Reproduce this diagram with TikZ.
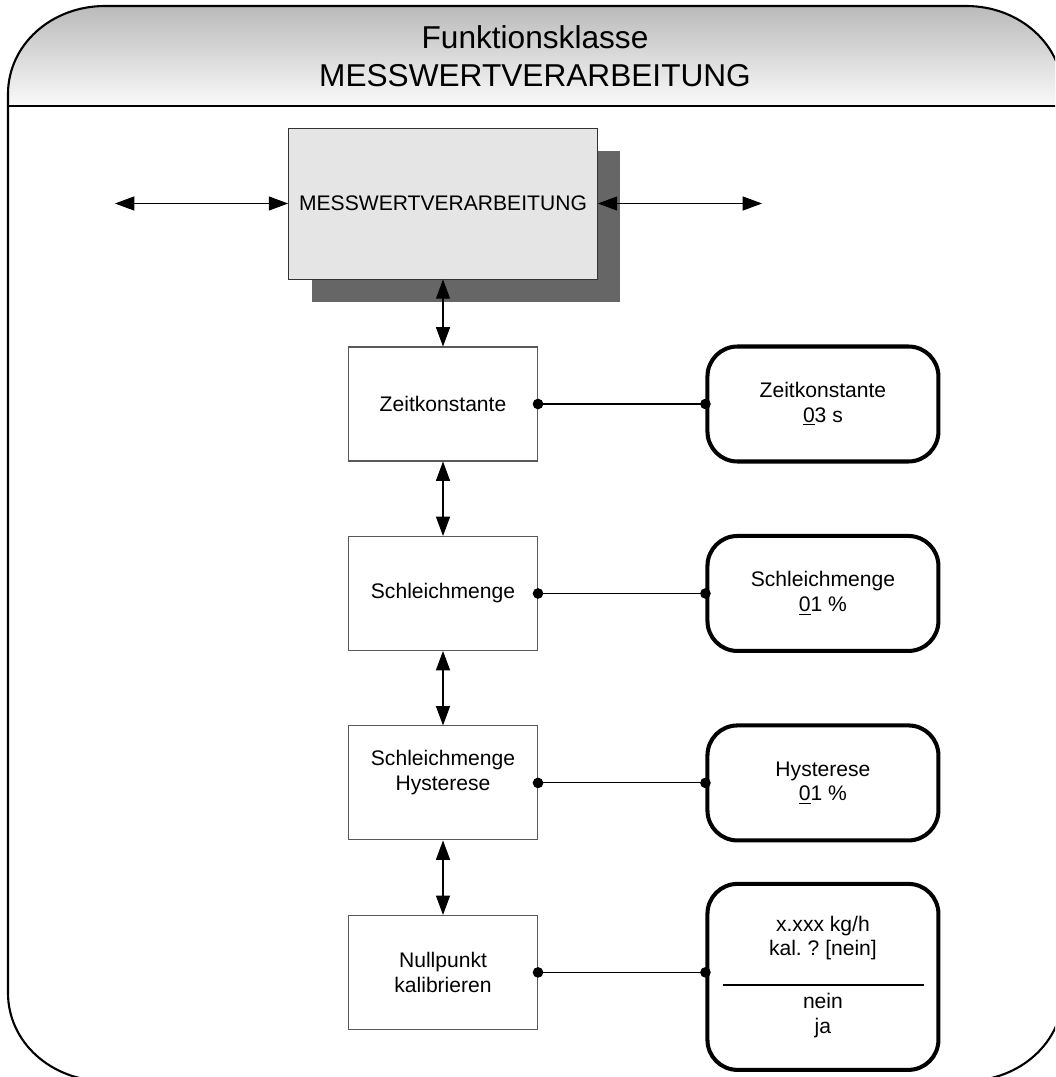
\documentclass[tikz,border=0pt]{standalone}
\usepackage{fontspec}
\setmainfont{Liberation Sans}
\usepackage{tikz}
\usetikzlibrary{arrows.meta, shadows}
\frenchspacing
\tikzstyle{mainbox} = [rectangle,
    minimum width=6.18cm,
    minimum height=3.02cm,
    text centered,
    draw=black!80,
    line width=0.5pt,
    fill=gray!20,
    font=\fontsize{12}{14}\selectfont,
    drop shadow={shadow xshift=0.46cm, shadow yshift=-0.46cm, fill=black!60, opacity=1}]
\tikzstyle{stepbox} = [rectangle,
    minimum width=3.78cm,
    minimum height=2.28cm,
    align=center,
    draw=black!65,
    line width=0.6pt,
    fill=white,
    font=\fontsize{12}{14}\selectfont]
\tikzstyle{view} = [rectangle,
    rounded corners=0.6cm,
    minimum width=4.62cm,
    minimum height=2.3cm,
    align=center,
    draw=black,
    line width=2.3pt,
    fill=white,
    font=\fontsize{12}{14}\selectfont]
\tikzstyle{biarrow} = [line width=0.6pt, {Triangle[length=11pt,width=8pt]}-{Triangle[length=11pt,width=8pt]}]
\tikzstyle{link} = [line width=0.6pt, {Circle[length=6pt]}-{Circle[length=6pt]},
    shorten <=-3pt, shorten >=-3pt]
\tikzstyle{frame} = [line width=1.2pt, draw=black]

\begin{document}
\begin{tikzpicture}[x=0.02cm, y=-0.02cm, node distance=3.79cm]
        \useasboundingbox (0,0) rectangle (1055,1077);
        \clip (0,0) rectangle (1055,1077);

        % outer frame with header band
        \fill[white] (8,993) -- (8,94) .. controls (8,45) and (51,6) .. (105,6) -- (966,6)
            .. controls (1020,6) and (1063,45) .. (1063,94) -- (1063,993)
            .. controls (1063,1042) and (1020,1081) .. (966,1081) -- (105,1081)
            .. controls (51,1081) and (8,1042) .. (8,993) -- cycle;
        \shade[top color=black!27, bottom color=black!2] (8,106) -- (8,94) .. controls (8,45) and (51,6) .. (105,6)
            -- (966,6) .. controls (1020,6) and (1063,45) .. (1063,94) -- (1063,106) -- cycle;
        \draw[frame] (8,993) -- (8,94) .. controls (8,45) and (51,6) .. (105,6) -- (966,6)
            .. controls (1020,6) and (1063,45) .. (1063,94) -- (1063,993)
            .. controls (1063,1042) and (1020,1081) .. (966,1081) -- (105,1081)
            .. controls (51,1081) and (8,1042) .. (8,993) -- cycle;
        \draw[frame] (8,106) -- (1063,106);
        \node (title) [align=center, font=\fontsize{18}{21.6}\selectfont] at (535,56)
        {Funktionsklasse\\MESSWERTVERARBEITUNG};

        \node (main) [mainbox] at (443,203.5) {MESSWERTVERARBEITUNG};
        \coordinate (inL) at (115,203.5);
        \coordinate (outR) at (762,203.5);

        \node (zk) [stepbox] at (443,404) {Zeitkonstante};
        \node (sm) [stepbox, below of=zk] {Schleichmenge};
        \node (hy) [stepbox, below of=sm] {Schleichmenge\\Hysterese\\ };
        \node (np) [stepbox, below of=hy] {Nullpunkt\\kalibrieren};

        \node (zkview) [view, right of=zk, xshift=3.81cm] {Zeitkonstante\\\underline{0}3 s};
        \node (smview) [view, right of=sm, xshift=3.81cm] {Schleichmenge\\\underline{0}1 \%};
        \node (hyview) [view, right of=hy, xshift=3.81cm] {Hysterese\\\underline{0}1 \%};
        \node (npview) [view, right of=np, xshift=3.81cm, yshift=-0.09cm, minimum height=3.72cm]
        {x.xxx kg/h\\kal. ? [nein]\\[16pt]nein\\ja};
        \draw [line width=1.1pt] (npview.center) ++(-100,8) -- ++(201,0);

        \draw [biarrow] (inL) -- (main.west);
        \draw [biarrow] (main.east) -- (outR);
        \draw [biarrow] (main.south) -- (zk.north);
        \draw [biarrow] (zk) -- (sm);
        \draw [biarrow] (sm) -- (hy);
        \draw [biarrow] (hy) -- (np);

        \draw [link] (zk.east) -- (zkview.west);
        \draw [link] (sm.east) -- (smview.west);
        \draw [link] (hy.east) -- (hyview.west);
        \draw [link] (np.east) -- (np.east -| npview.west);
    \end{tikzpicture}
\end{document}
